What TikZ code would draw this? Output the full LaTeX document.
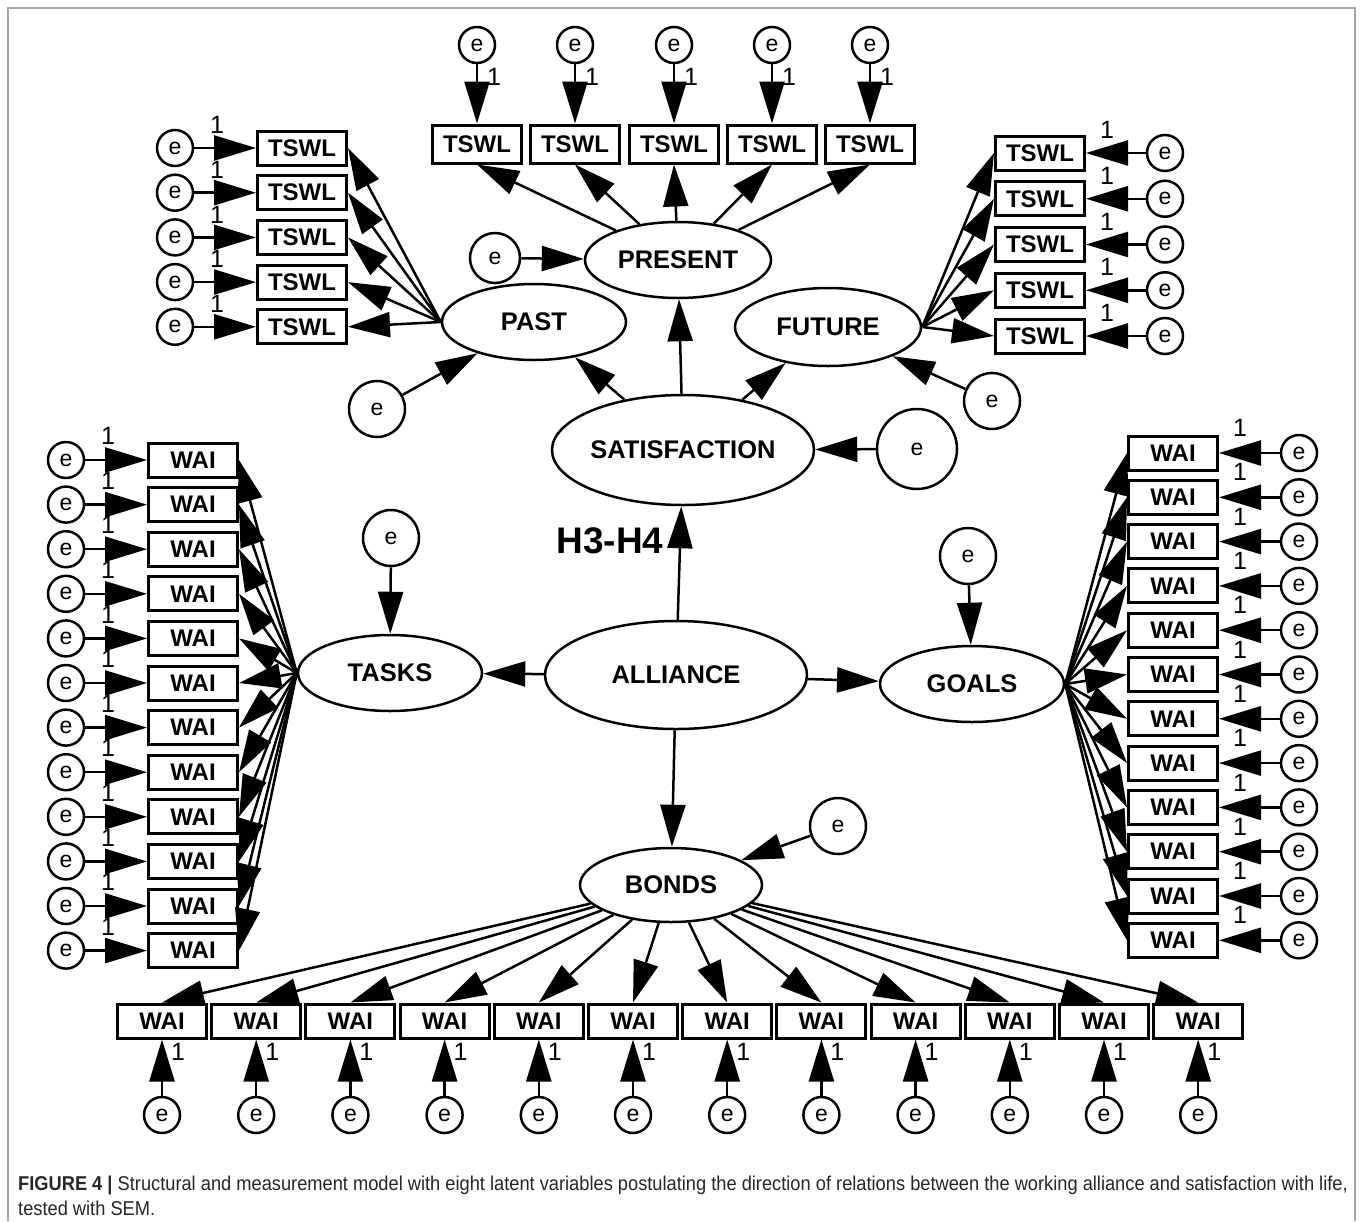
\documentclass[tikz,border=0pt]{standalone}
\usepackage{fontspec}
\setmainfont{Liberation Sans}
\newfontfamily\capfont[FakeStretch=0.913]{Liberation Sans}
\usetikzlibrary{shapes.geometric,arrows.meta}
\newcommand\obsfont{\fontsize{24}{24}\selectfont\bfseries}
\newcommand\latfont{\fontsize{25.5}{25.5}\selectfont\bfseries}
\newcommand\errfont{\fontsize{23}{23}\selectfont}
\newcommand\onefont{\fontsize{25}{25}\selectfont}
\tikzset{
	obs/.style={draw, line width=3pt, fill=white, minimum width=89pt, minimum height=34pt, inner sep=0pt, font=\obsfont},
	lat/.style={draw, ellipse, line width=2.5pt, fill=white, inner sep=0pt, font=\latfont},
	err/.style={draw, circle, line width=2.5pt, fill=white, inner sep=0pt, minimum size=36pt, font=\errfont},
	path/.style={line width=2.5pt, -{Triangle[length=42pt,width=25pt]}},
	one/.style={inner sep=0pt, font=\onefont},
	frame/.style={gray!70, line width=2pt}
}

\begin{document}
\begin{tikzpicture}[x=1pt,y=-1pt]
	%%%%% START %%%%%
	\useasboundingbox (0,0) rectangle (1360,1221);
	\draw[frame] (8,1221) -- (8,8) -- (1355,8) -- (1355,1221);
	
	% latent variables
	\node[lat, minimum width=262pt, minimum height=108pt] (alliance) at (676,675) {ALLIANCE};
	\node[lat, minimum width=262pt, minimum height=110pt] (satisf) at (683,450) {SATISFACTION};
	\node[lat, minimum width=186pt, minimum height=76pt] (present) at (678,260) {PRESENT};
	\node[lat, minimum width=184pt, minimum height=76pt] (past) at (534,322) {PAST};
	\node[lat, minimum width=186pt, minimum height=78pt] (future) at (828,327) {FUTURE};
	\node[lat, minimum width=184pt, minimum height=76pt] (tasks) at (390,673) {TASKS};
	\node[lat, minimum width=184pt, minimum height=76pt] (goals) at (972,684) {GOALS};
	\node[lat, minimum width=182pt, minimum height=74pt] (bonds) at (671,885) {BONDS};
	
	% disturbances
	\node[err, minimum size=80pt] (esat) at (917,449) {e};
	\node[err, minimum size=50pt] (epres) at (495,258) {e};
	\node[err, minimum size=56pt] (epast) at (377,409) {e};
	\node[err, minimum size=56pt] (efut) at (992,401) {e};
	\node[err, minimum size=56pt] (etask) at (391,538) {e};
	\node[err, minimum size=56pt] (egoal) at (968,556) {e};
	\node[err, minimum size=56pt] (ebond) at (838,826) {e};
	
	\draw[path] (esat) -- (satisf);
	\draw[path] (epres) -- (present);
	\draw[path] (epast) -- (past);
	\draw[path] (efut) -- (future);
	\draw[path] (etask) -- (tasks);
	\draw[path] (egoal) -- (goals);
	\draw[path] (ebond) -- (bonds);
	
	% structural paths
	\draw[path] (alliance) -- (satisf);
	\draw[path] (alliance) -- (tasks);
	\draw[path] (alliance) -- (goals);
	\draw[path] (alliance) -- (bonds);
	\draw[path] (satisf) -- (past);
	\draw[path] (satisf) -- (present);
	\draw[path] (satisf) -- (future);
	\node[font=\fontsize{37}{37}\selectfont\bfseries, inner sep=0pt] (hyp) at (610,541) {H3-H4};
	
	% PRESENT items
	\foreach \x [count=\i] in {477,575,674,772,870} {
		\node[obs, minimum height=38pt] (pr\i) at (\x,144) {TSWL};
		\node[err] (epr\i) at (\x,45) {e};
		\node[one] (opr\i) at (\x+17,77) {1};
		\draw[path] (epr\i) -- (pr\i);
		\draw[path] (present) -- (pr\i.south);
	}
	
	% PAST items
	\foreach \i in {0,...,4} {
		\node[obs] (pa\i) at (302,{148+44.7*\i}) {TSWL};
		\node[err] (epa\i) at (175,{148+44.7*\i}) {e};
		\node[one] (opa\i) at (217,{125+44.7*\i}) {1};
		\draw[path] (epa\i) -- (pa\i);
		\draw[path] (past.west) -- (pa\i.east);
	}
	
	% FUTURE items
	\foreach \i in {0,...,4} {
		\node[obs] (fu\i) at (1040,{153+45.75*\i}) {TSWL};
		\node[err] (efu\i) at (1165,{153+45.75*\i}) {e};
		\node[one] (ofu\i) at (1107,{130+45.75*\i}) {1};
		\draw[path] (efu\i) -- (fu\i);
		\draw[path] (future.east) -- (fu\i.west);
	}
	
	% TASKS items
	\foreach \i in {0,...,11} {
		\node[obs] (ta\i) at (193,{460+44.6*\i}) {WAI};
		\node[err] (eta\i) at (66,{460+44.6*\i}) {e};
		\node[one] (ota\i) at (108,{436+44.6*\i}) {1};
		\draw[path] (eta\i) -- (ta\i);
		\draw[path] (tasks.west) -- (ta\i.east);
	}
	
	% GOALS items
	\foreach \i in {0,...,11} {
		\node[obs] (go\i) at (1173,{453+44.3*\i}) {WAI};
		\node[err] (ego\i) at (1299,{453+44.3*\i}) {e};
		\node[one] (ogo\i) at (1240,{428+44.3*\i}) {1};
		\draw[path] (ego\i) -- (go\i);
		\draw[path] (goals.east) -- (go\i.west);
	}
	
	% BONDS items
	\foreach \i in {0,...,11} {
		\node[obs] (bo\i) at ({162+94.2*\i},1021) {WAI};
		\node[err] (ebo\i) at ({162+94.2*\i},1115) {e};
		\node[one] (obo\i) at ({178+94.2*\i},1052) {1};
		\draw[path] (ebo\i) -- (bo\i);
		\draw[path] (bonds) -- (bo\i.north);
	}
	
	% caption
	\node[anchor=base west, inner sep=0pt, font=\capfont\fontsize{20}{20}\selectfont, text=black!85] (cap1) at (18,1190) {\textbf{FIGURE 4 |} Structural and measurement model with eight latent variables postulating the direction of relations between the working alliance and satisfaction with life,};
	\node[anchor=base west, inner sep=0pt, font=\capfont\fontsize{20}{20}\selectfont, text=black!85] (cap2) at (18,1215) {tested with SEM.};
	%%%%% END %%%%%
\end{tikzpicture}
\end{document}
